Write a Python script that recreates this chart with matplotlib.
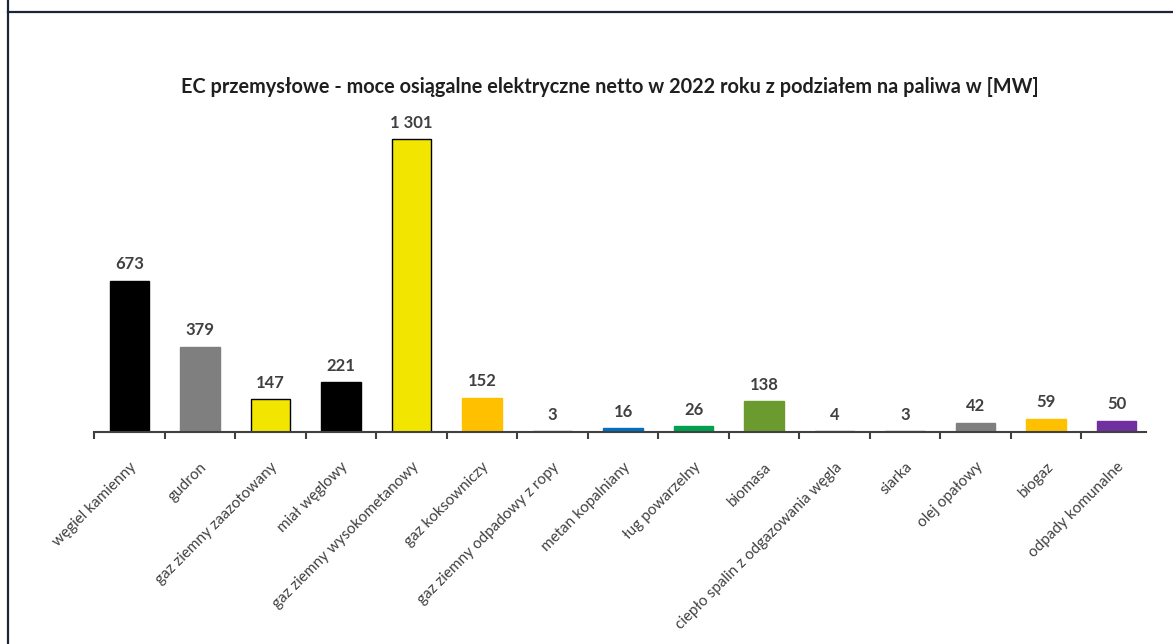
import matplotlib
matplotlib.use("Agg")
import matplotlib.pyplot as plt
from matplotlib.lines import Line2D

categories = [
    "węgiel kamienny", "gudron", "gaz ziemny zaazotowany", "miał węglowy",
    "gaz ziemny wysokometanowy", "gaz koksowniczy", "gaz ziemny odpadowy z ropy",
    "metan kopalniany", "ług powarzelny", "biomasa",
    "ciepło spalin z odgazowania węgla", "siarka", "olej opałowy", "biogaz",
    "odpady komunalne",
]
values = [673, 379, 147, 221, 1301, 152, 3, 16, 26, 138, 4, 3, 42, 59, 50]
colors = ["#000000", "#7f7f7f", "#f2e600", "#000000", "#f2e600", "#ffc000",
          "#595959", "#0070c0", "#00a050", "#6b9a2e", "#595959", "#595959",
          "#7f7f7f", "#ffc000", "#7030a0"]
edge_colors = ["#000000", "#7f7f7f", "#000000", "#000000", "#000000", "#ffc000",
               "#595959", "#0070c0", "#00a050", "#6b9a2e", "#595959", "#595959",
               "#7f7f7f", "#ffc000", "#7030a0"]
title = "EC przemysłowe - moce osiągalne elektryczne netto w 2022 roku z podziałem na paliwa w [MW]"

plt.rcParams["font.family"] = ["Lato", "DejaVu Sans"]

fig = plt.figure(figsize=(11.73, 6.44), dpi=100)
fig.patch.set_facecolor("white")

# outer frame lines (left and top)
frame_color = "#1b2538"
fig.add_artist(Line2D([8 / 1173, 8 / 1173], [0, 1], transform=fig.transFigure,
                      color=frame_color, lw=1.6))
fig.add_artist(Line2D([8 / 1173, 1], [1 - 12 / 644, 1 - 12 / 644],
                      transform=fig.transFigure, color=frame_color, lw=1.6))

ax = fig.add_axes([94 / 1173, 1 - 432 / 644, 1058 / 1173, 315 / 644])
x = list(range(len(categories)))
ax.bar(x, values, width=0.56, color=colors, edgecolor=edge_colors, linewidth=1.0,
       zorder=2)

for xi, v in zip(x, values):
    label = f"{v:,}".replace(",", " ")
    ax.annotate(label, (xi, v), xytext=(0, 6), textcoords="offset points",
                ha="center", va="bottom", fontsize=12, fontweight="bold",
                color="#404040")

ax.set_xlim(-0.5, len(categories) - 0.5)
ax.set_ylim(0, 1400)

for side in ["top", "right", "left"]:
    ax.spines[side].set_visible(False)
ax.spines["bottom"].set_color("#404040")
ax.spines["bottom"].set_linewidth(1.5)
ax.spines["bottom"].set_zorder(3)
ax.spines["bottom"].set_bounds(-0.5, len(categories) - 0.58)

ax.set_yticks([])
ax.set_xticks(x)
ax.set_xticklabels(categories, rotation=45, ha="right", rotation_mode="anchor",
                   fontsize=11, color="#404040")
ax.tick_params(axis="x", which="major", length=0, pad=20)
ax.set_xticks([i - 0.5 for i in range(len(categories))], minor=True)
ax.tick_params(axis="x", which="minor", length=5, width=1.5, color="#404040",
               direction="out")

fig.text(610 / 1173, 1 - 87 / 644, title, ha="center", va="center",
         fontsize=14.3, fontweight="bold", color="#1f1f1f")

fig.savefig("out.png", dpi=100)
